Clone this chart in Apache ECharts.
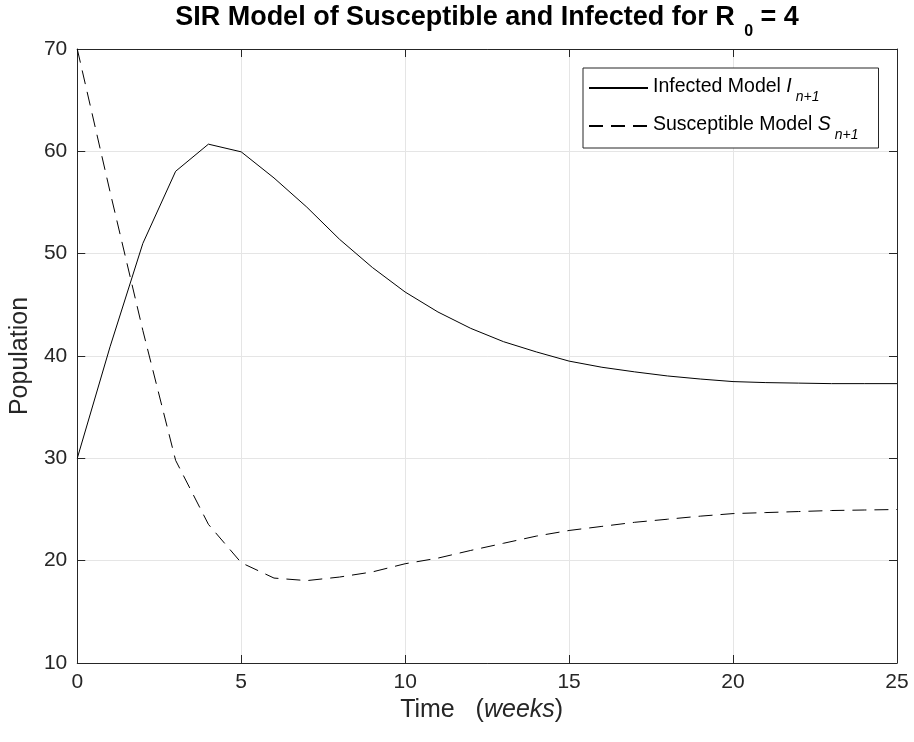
<!DOCTYPE html>
<html>
<head>
<meta charset="utf-8">
<script src="https://cdn.jsdelivr.net/npm/echarts@6/dist/echarts.min.js"></script>
<style>
  html, body { margin: 0; padding: 0; background: #fff; }
  #chart { width: 914px; height: 742px; }
</style>
</head>
<body>
<div id="chart"></div>
<script>
  // weeks 0..25
  var weeks = [0, 1, 2, 3, 4, 5, 6, 7, 8, 9, 10, 11, 12, 13, 14, 15, 16, 17, 18, 19, 20, 21, 22, 23, 24, 25];
  var infected = [30, 40.9, 51.0, 58.05, 60.7, 59.95, 57.4, 54.55, 51.4, 48.65, 46.25, 44.3, 42.7, 41.4, 40.4,
    39.5, 38.9, 38.45, 38.05, 37.75, 37.5, 37.4, 37.35, 37.3, 37.3, 37.3];
  var susceptible = [70, 56.05, 42.5, 29.8, 23.55, 19.8, 18.3, 18.05, 18.4, 18.9, 19.7, 20.25, 21.0, 21.7, 22.4,
    22.95, 23.35, 23.75, 24.05, 24.35, 24.6, 24.7, 24.8, 24.9, 24.95, 25.0];
  var xTicks = [0, 5, 10, 15, 20, 25];
  var yTicks = [10, 20, 30, 40, 50, 60, 70];

  var font = 'Liberation Sans, Arial, Helvetica, sans-serif';
  var axisColor = '#262626';

  function pairs(xs, ys) {
    return xs.map(function (x, i) { return [x, ys[i]]; });
  }

  var axisBase = {
    type: 'value',
    axisLine: { show: true, onZero: false, lineStyle: { color: axisColor, width: 1 } },
    axisTick: { show: true, inside: true, length: 8, lineStyle: { color: axisColor } },
    splitLine: { show: false },
    axisLabel: { show: false }
  };

  var chart = echarts.init(document.getElementById('chart'), null, { renderer: 'canvas' });
  chart.setOption({
    backgroundColor: '#fff',
    animation: false,
    textStyle: { fontFamily: font },
    title: {
      left: 487,
      top: 4,
      padding: 0,
      textAlign: 'center',
      text: '{t|SIR Model of Susceptible and Infected for R }{s|0}{t| = 4}',
      textStyle: {
        rich: {
          t: { fontFamily: font, fontSize: 27, fontWeight: 'bold', color: '#000', lineHeight: 30, verticalAlign: 'top' },
          s: { fontFamily: font, fontSize: 16, fontWeight: 'bold', color: '#000', lineHeight: 16, verticalAlign: 'top', padding: [20, 0, 0, 2] }
        }
      }
    },
    grid: { left: 77, right: 17, top: 49, bottom: 79, containLabel: false },
    legend: {
      orient: 'vertical',
      left: 583,
      top: 68,
      padding: [8, 20, 6, 5],
      itemWidth: 59,
      itemHeight: 14,
      itemGap: 10,
      backgroundColor: '#fff',
      borderColor: axisColor,
      borderWidth: 1,
      itemStyle: { opacity: 0 },
      data: ['Infected', 'Susceptible'],
      formatter: function (name) {
        if (name === 'Infected') return '{a|Infected Model }{i|I}{s|n+1}';
        return '{a|Susceptible Model }{i|S}{s|n+1}';
      },
      textStyle: {
        padding: [0, 0, 0, 0],
        rich: {
          a: { fontFamily: font, fontSize: 19.5, color: '#000', lineHeight: 24, verticalAlign: 'top', padding: [1, 0, 0, 0] },
          i: { fontFamily: font, fontSize: 19.5, fontStyle: 'italic', color: '#000', lineHeight: 24, verticalAlign: 'top', padding: [1, 0, 0, 0] },
          s: { fontFamily: font, fontSize: 14, fontStyle: 'italic', color: '#000', lineHeight: 14, verticalAlign: 'top', padding: [14, 0, 0, 4] }
        }
      }
    },
    xAxis: [
      Object.assign({}, axisBase, {
        min: 0, max: 25, interval: 5, position: 'bottom',
        splitLine: { show: true, lineStyle: { color: '#e5e5e5', width: 1 } },
        axisLabel: {
          show: true, margin: 9, fontSize: 21, color: axisColor, fontFamily: font,
          formatter: function (v) { return xTicks.indexOf(v) >= 0 ? String(v) : ''; }
        },
        name: '{a|Time   (}{b|weeks}{a|)}',
        nameLocation: 'middle',
        nameGap: 32,
        nameTextStyle: {
          padding: [0, 11, 0, 0],
          rich: {
            a: { fontFamily: font, fontSize: 25, color: axisColor },
            b: { fontFamily: font, fontSize: 25, fontStyle: 'italic', color: axisColor }
          }
        }
      }),
      Object.assign({}, axisBase, { min: 0, max: 25, interval: 5, position: 'top' })
    ],
    yAxis: [
      Object.assign({}, axisBase, {
        min: 10, max: 70, interval: 10, position: 'left',
        splitLine: { show: true, lineStyle: { color: '#e5e5e5', width: 1 } },
        axisLabel: {
          show: true, margin: 10, fontSize: 21, color: axisColor, fontFamily: font,
          formatter: function (v) { return yTicks.indexOf(v) >= 0 ? String(v) : ''; }
        },
        name: 'Population',
        nameLocation: 'middle',
        nameGap: 42,
        nameTextStyle: { fontFamily: font, fontSize: 25, color: axisColor }
      }),
      Object.assign({}, axisBase, { min: 10, max: 70, interval: 10, position: 'right' })
    ],
    series: [
      {
        name: 'Infected',
        type: 'line',
        xAxisIndex: 0,
        yAxisIndex: 0,
        symbol: 'none',
        lineStyle: { color: '#000', width: 1 },
        itemStyle: { color: '#000' },
        data: pairs(weeks, infected)
      },
      {
        name: 'Susceptible',
        type: 'line',
        xAxisIndex: 0,
        yAxisIndex: 0,
        symbol: 'none',
        lineStyle: { color: '#000', width: 1, type: [14, 8] },
        itemStyle: { color: '#000' },
        data: pairs(weeks, susceptible)
      }
    ]
  });
</script>
</body>
</html>
